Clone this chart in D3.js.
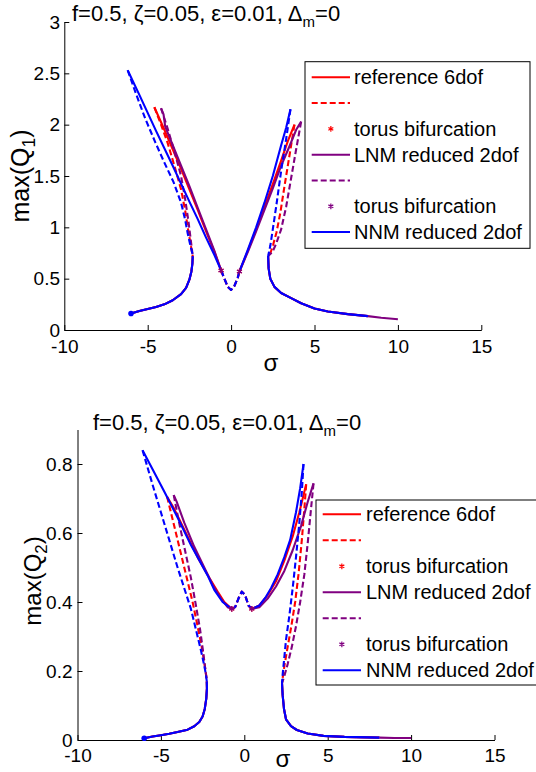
<!DOCTYPE html>
<html>
<head>
<meta charset="utf-8">
<script src="https://cdn.jsdelivr.net/npm/d3@7"></script>
<style>
html, body { margin: 0; padding: 0; background: #fff; overflow: hidden; }
svg { display: block; font-family: "Liberation Sans", Arial, Helvetica, sans-serif; }
</style>
</head>
<body>
<svg id="chart" width="536" height="772"></svg>
<script>
"use strict";

// ---- tick values
const sigmaTicks = [-10, -5, 0, 5, 10, 15];
const q1Ticks = [0, 0.5, 1, 1.5, 2, 2.5, 3];
const q2Ticks = [0, 0.2, 0.4, 0.6, 0.8];

// ---- legend
const legendLabels = ["reference 6dof", "", "torus bifurcation", "LNM reduced 2dof", "", "torus bifurcation", "NNM reduced 2dof"];
const legendKinds = ["solid", "dashed", "star", "solid", "dashed", "star", "solid"];
const legendSeries = ["ref", "ref", "ref", "lnm", "lnm", "lnm", "nnm"];

// ---- max(Q1) branches  [sigma, value]
const q1LowerLeft = [[-6.0,0.16],[-5.5,0.185],[-5.0,0.205],[-4.5,0.225],[-4.0,0.25],[-3.5,0.29],[-3.0,0.35],[-2.7,0.41],[-2.5,0.49],[-2.38,0.57],[-2.32,0.65],[-2.3,0.72]];
const q1LowerRight = [[2.22,0.72],[2.25,0.6],[2.35,0.5],[2.6,0.42],[3.0,0.36],[3.6,0.31],[4.2,0.26],[5.0,0.21],[5.8,0.18],[7.0,0.155],[8.2,0.135]];
const q1LnmTail = [[8.2,0.135],[9.0,0.12],[10.0,0.105]];
const q1Center = [[-0.6,0.58],[-0.4,0.5],[-0.2,0.42],[0,0.39],[0.2,0.43],[0.4,0.51],[0.5,0.57]];
const q1Torus = [[-0.6,0.58],[0.5,0.57]];

const q1RefArmL = [[-4.6,2.17],[-4.0,1.95],[-3.5,1.76],[-3.0,1.57],[-2.5,1.37],[-2.0,1.17],[-1.5,0.96],[-1.0,0.76],[-0.6,0.58]];
const q1RefUnstL = [[-4.6,2.17],[-4.2,2.0],[-3.8,1.82],[-3.4,1.6],[-3.0,1.37],[-2.75,1.16],[-2.58,0.98],[-2.42,0.83],[-2.3,0.72]];
const q1RefArmR = [[0.5,0.57],[1.0,0.77],[1.5,0.98],[2.0,1.2],[2.5,1.42],[3.0,1.65],[3.4,1.84],[3.8,2.0]];
const q1RefUnstR = [[3.8,2.0],[3.5,1.7],[3.2,1.4],[2.95,1.14],[2.72,0.95],[2.52,0.83],[2.36,0.75],[2.22,0.72]];

const q1LnmArmL = [[-4.2,2.16],[-4.05,2.1],[-3.95,1.98],[-3.5,1.8],[-3.0,1.6],[-2.5,1.4],[-2.0,1.19],[-1.5,0.98],[-1.0,0.77],[-0.6,0.58]];
const q1LnmUnstL = [[-4.2,2.16],[-3.8,1.96],[-3.4,1.74],[-3.0,1.5],[-2.75,1.27],[-2.55,1.05],[-2.42,0.88],[-2.33,0.76],[-2.3,0.72]];
const q1LnmArmR = [[0.5,0.57],[1.0,0.76],[1.5,0.96],[2.0,1.17],[2.5,1.38],[3.0,1.6],[3.5,1.79],[3.9,1.95],[4.2,2.03]];
const q1LnmUnstR = [[4.2,2.03],[3.9,1.76],[3.6,1.48],[3.3,1.2],[3.0,0.98],[2.7,0.84],[2.48,0.76],[2.22,0.72]];

const q1NnmArmL = [[-6.2,2.53],[-5.5,2.29],[-4.5,1.94],[-3.5,1.6],[-3.1,1.46],[-2.5,1.25],[-2.0,1.08],[-1.5,0.9],[-1.0,0.73],[-0.6,0.58]];
const q1NnmUnstL = [[-6.2,2.53],[-5.7,2.3],[-5.15,2.06],[-4.55,1.83],[-4.0,1.63],[-3.45,1.44],[-3.0,1.24],[-2.75,1.07],[-2.6,0.94],[-2.45,0.83],[-2.33,0.75],[-2.3,0.72]];
const q1NnmArmR = [[0.5,0.57],[1.0,0.78],[1.5,1.0],[2.0,1.24],[2.5,1.5],[3.0,1.8],[3.3,1.97],[3.56,2.15]];
const q1NnmUnstR = [[3.56,2.15],[3.3,1.86],[3.0,1.55],[2.7,1.2],[2.5,0.98],[2.35,0.82],[2.22,0.72]];

// ---- max(Q2) branches
const q2LowerLeft = [[-6.0,0.005],[-5.5,0.01],[-5.0,0.014],[-4.5,0.018],[-4.0,0.023],[-3.4,0.03],[-3.0,0.04],[-2.7,0.052],[-2.5,0.068],[-2.37,0.09],[-2.28,0.12],[-2.24,0.15],[-2.25,0.17]];
const q2LowerRight = [[2.26,0.165],[2.3,0.13],[2.38,0.09],[2.5,0.06],[2.8,0.04],[3.15,0.029],[3.8,0.019],[4.75,0.012],[6.0,0.009],[8.1,0.007]];
const q2LnmTail = [[8.1,0.007],[9.0,0.006],[10.0,0.006]];
const q2Center = [[-0.75,0.38],[-0.55,0.385],[-0.35,0.41],[-0.15,0.43],[0.05,0.42],[0.25,0.39],[0.45,0.38]];
const q2Torus = [[-0.75,0.38],[0.45,0.38]];

const q2RefArmL = [[-4.63,0.705],[-4.2,0.67],[-3.5,0.6],[-2.8,0.53],[-2.1,0.47],[-1.6,0.43],[-1.2,0.4],[-0.75,0.38]];
const q2RefUnstL = [[-4.63,0.705],[-4.3,0.64],[-3.9,0.56],[-3.5,0.48],[-3.1,0.4],[-2.8,0.33],[-2.55,0.27],[-2.38,0.22],[-2.28,0.185],[-2.25,0.17]];
const q2RefArmR = [[0.45,0.38],[0.9,0.39],[1.4,0.42],[1.9,0.46],[2.4,0.52],[2.9,0.59],[3.3,0.66],[3.71,0.741]];
const q2RefUnstR = [[3.71,0.741],[3.6,0.67],[3.45,0.58],[3.25,0.48],[3.05,0.4],[2.82,0.33],[2.6,0.27],[2.42,0.22],[2.3,0.18],[2.26,0.165]];

const q2LnmArmL = [[-4.23,0.71],[-4.05,0.69],[-3.6,0.63],[-3.0,0.56],[-2.4,0.5],[-1.9,0.45],[-1.4,0.41],[-1.0,0.385],[-0.75,0.38]];
const q2LnmUnstL = [[-4.23,0.71],[-3.95,0.64],[-3.6,0.56],[-3.2,0.47],[-2.9,0.39],[-2.65,0.32],[-2.48,0.26],[-2.35,0.21],[-2.27,0.18],[-2.25,0.17]];
const q2LnmArmR = [[0.45,0.38],[0.9,0.385],[1.4,0.41],[1.9,0.445],[2.4,0.49],[2.9,0.55],[3.4,0.62],[3.8,0.69],[4.15,0.744]];
const q2LnmUnstR = [[4.15,0.744],[4.0,0.67],[3.8,0.57],[3.6,0.48],[3.35,0.4],[3.1,0.33],[2.85,0.27],[2.6,0.22],[2.4,0.185],[2.26,0.165]];

const q2NnmArmL = [[-6.1,0.84],[-5.5,0.785],[-4.8,0.72],[-4.0,0.645],[-3.2,0.565],[-2.2,0.477],[-1.8,0.435],[-1.3,0.4],[-0.75,0.38]];
const q2NnmUnstL = [[-6.1,0.84],[-5.5,0.74],[-5.0,0.66],[-4.5,0.58],[-4.0,0.5],[-3.6,0.44],[-3.2,0.38],[-2.85,0.31],[-2.6,0.26],[-2.42,0.22],[-2.3,0.19],[-2.25,0.17]];
const q2NnmArmR = [[0.45,0.38],[0.9,0.39],[1.3,0.415],[1.6,0.44],[2.0,0.48],[2.4,0.53],[2.75,0.58],[3.1,0.66],[3.35,0.73],[3.55,0.8]];
const q2NnmUnstR = [[3.55,0.8],[3.45,0.72],[3.3,0.63],[3.1,0.53],[2.9,0.44],[2.7,0.36],[2.5,0.29],[2.38,0.23],[2.3,0.19],[2.26,0.165]];

const COLORS = { ref: "#ff0000", lnm: "#800080", nnm: "#0000ff" };
const svg = d3.select("#chart");

// build branch list for one panel, drawn in order ref -> lnm -> nnm
function branches(p) {
  const out = [];
  const add = (s, pts, dash) => out.push({ s, pts, dash });
  [["ref", p.refArmL, p.refUnstL, p.refArmR, p.refUnstR],
   ["lnm", p.lnmArmL, p.lnmUnstL, p.lnmArmR, p.lnmUnstR],
   ["nnm", p.nnmArmL, p.nnmUnstL, p.nnmArmR, p.nnmUnstR]].forEach(([s, aL, uL, aR, uR]) => {
    add(s, p.lowerLeft, false);
    add(s, p.lowerRight, false);
    if (s === "lnm") add(s, p.lnmTail, false);
    add(s, uL, true);
    add(s, aL, false);
    add(s, p.center, true);
    add(s, aR, false);
    add(s, uR, true);
  });
  return out;
}

function drawPanel(p) {
  const x = d3.scaleLinear().domain([-10, 15]).range(p.xr);
  const y = d3.scaleLinear().domain(p.yDomain).range(p.yr);
  const g = svg.append("g");

  const xAxis = g.append("g")
    .attr("transform", `translate(0,${p.yr[0]})`)
    .call(d3.axisBottom(x).tickValues(sigmaTicks).tickSize(-5).tickSizeOuter(0)
      .tickPadding(p.xPad).tickFormat(d => String(d)));
  const yAxis = g.append("g")
    .attr("transform", `translate(${p.xr[0]},0)`)
    .call(d3.axisLeft(y).tickValues(p.yTicks).tickSize(-5).tickSizeOuter(0)
      .tickPadding(p.yPad).tickFormat(d => String(d)));
  [xAxis, yAxis].forEach(a => {
    a.selectAll("text").attr("font-size", 19).attr("fill", "#000");
    a.selectAll("line, path").attr("stroke", "#000").attr("stroke-width", 1);
    a.attr("font-family", null);
  });

  const line = d3.line().x(d => x(d[0])).y(d => y(d[1]));
  g.append("g").selectAll("path")
    .data(branches(p))
    .join("path")
    .attr("d", d => line(d.pts))
    .attr("fill", "none")
    .attr("stroke", d => COLORS[d.s])
    .attr("stroke-width", 2.1)
    .attr("stroke-linejoin", "round")
    .attr("stroke-dasharray", d => d.dash ? "6,3" : null);

  // start dot of the sweep
  g.append("circle")
    .attr("cx", x(p.lowerLeft[0][0])).attr("cy", y(p.lowerLeft[0][1]))
    .attr("r", 2.8).attr("fill", COLORS.nnm);

  // torus bifurcation points
  const star = d3.symbol(d3.symbolAsterisk, 22);
  ["ref", "lnm"].forEach(s => {
    g.append("g").selectAll("path")
      .data(p.torus)
      .join("path")
      .attr("transform", d => `translate(${x(d[0])},${y(d[1])})`)
      .attr("d", star)
      .attr("fill", "none")
      .attr("stroke", COLORS[s])
      .attr("stroke-width", 1.2);
  });

  // title
  const t = g.append("text").attr("x", p.titleX).attr("y", p.titleY).attr("font-size", 22);
  t.append("tspan").text("f=0.5, ζ=0.05, ε=0.01, Δ");
  t.append("tspan").attr("dy", 6).attr("font-size", 15).text("m");
  t.append("tspan").attr("dy", -6).text("=0");

  // axis labels
  const yl = g.append("text")
    .attr("transform", `translate(${p.ylX},${p.ylY}) rotate(-90)`)
    .attr("text-anchor", "middle").attr("font-size", p.ylSize);
  yl.append("tspan").text("max(Q");
  yl.append("tspan").attr("dy", p.ylSize * 0.25).attr("font-size", p.ylSize * 0.7).text(p.ylSub);
  yl.append("tspan").attr("dy", -p.ylSize * 0.25).text(")");

  g.append("text").attr("x", p.sigX).attr("y", p.sigY)
    .attr("text-anchor", "middle").attr("font-size", 24).text("σ");

  // legend
  const L = p.legend;
  const lg = g.append("g");
  lg.append("rect").attr("x", L.x0).attr("y", L.y0).attr("width", L.x1 - L.x0).attr("height", L.y1 - L.y0)
    .attr("fill", "#fff").attr("stroke", "#000").attr("stroke-width", 1);
  const rows = lg.selectAll("g.row")
    .data(legendLabels.map((lab, i) => ({ lab, kind: legendKinds[i], s: legendSeries[i], i })))
    .join("g").attr("class", "row")
    .attr("transform", d => `translate(0,${L.row0 + d.i * L.step})`);
  rows.filter(d => d.kind !== "star").append("line")
    .attr("x1", L.lx0).attr("x2", L.lx1).attr("y1", 0).attr("y2", 0)
    .attr("stroke", d => COLORS[d.s]).attr("stroke-width", 2)
    .attr("stroke-dasharray", d => d.kind === "dashed" ? "6,3" : null);
  rows.filter(d => d.kind === "star").append("path")
    .attr("transform", `translate(${(L.lx0 + L.lx1) / 2},0)`)
    .attr("d", star).attr("fill", "none")
    .attr("stroke", d => COLORS[d.s]).attr("stroke-width", 1.2);
  rows.append("text").attr("x", L.tx).attr("dy", "0.35em")
    .attr("font-size", 20).text(d => d.lab);
}

drawPanel({
  xr: [64.3, 481.3], yr: [330, 22], yDomain: [0, 3], yTicks: q1Ticks, xPad: 9.5, yPad: 4.3,
  lowerLeft: q1LowerLeft, lowerRight: q1LowerRight, lnmTail: q1LnmTail, center: q1Center, torus: q1Torus,
  refArmL: q1RefArmL, refUnstL: q1RefUnstL, refArmR: q1RefArmR, refUnstR: q1RefUnstR,
  lnmArmL: q1LnmArmL, lnmUnstL: q1LnmUnstL, lnmArmR: q1LnmArmR, lnmUnstR: q1LnmUnstR,
  nnmArmL: q1NnmArmL, nnmUnstL: q1NnmUnstL, nnmArmR: q1NnmArmR, nnmUnstR: q1NnmUnstR,
  titleX: 72, titleY: 20.5, ylX: 29, ylY: 176, ylSize: 25, ylSub: "1", sigX: 271, sigY: 371,
  legend: { x0: 305, x1: 530, y0: 61.7, y1: 248.3, row0: 77.3, step: 25.8, lx0: 311.7, lx1: 350, tx: 354 }
});

drawPanel({
  xr: [77.5, 494.5], yr: [740, 429.5], yDomain: [0, 0.9], yTicks: q2Ticks, xPad: 8.5, yPad: 5,
  lowerLeft: q2LowerLeft, lowerRight: q2LowerRight, lnmTail: q2LnmTail, center: q2Center, torus: q2Torus,
  refArmL: q2RefArmL, refUnstL: q2RefUnstL, refArmR: q2RefArmR, refUnstR: q2RefUnstR,
  lnmArmL: q2LnmArmL, lnmUnstL: q2LnmUnstL, lnmArmR: q2LnmArmR, lnmUnstR: q2LnmUnstR,
  nnmArmL: q2NnmArmL, nnmUnstL: q2NnmUnstL, nnmArmR: q2NnmArmR, nnmUnstR: q2NnmUnstR,
  titleX: 93, titleY: 430, ylX: 40.5, ylY: 581, ylSize: 24, ylSub: "2", sigX: 283, sigY: 767,
  legend: { x0: 316, x1: 545, y0: 500, y1: 685, row0: 514.3, step: 26, lx0: 322.7, lx1: 361, tx: 366 }
});
</script>
</body>
</html>
